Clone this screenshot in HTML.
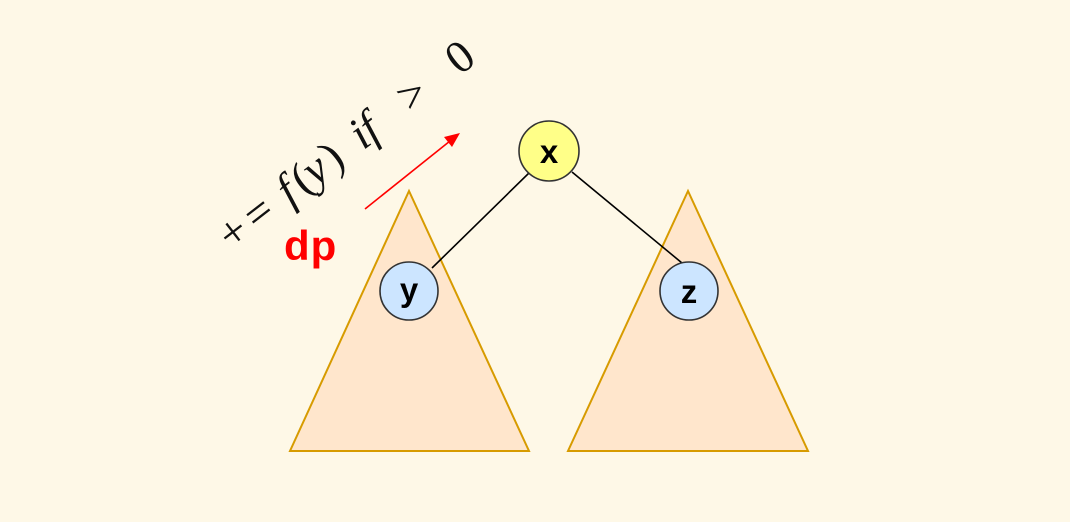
<!DOCTYPE html>
<html><head><style>body{margin:0;background:#fef8e7;}svg{display:block}</style></head><body>
<svg width="1070" height="522" xmlns="http://www.w3.org/2000/svg">
<rect width="1070" height="522" fill="#fef8e7"/>
<polygon points="409,191 290,451 529,451" fill="#ffe6cc" stroke="#d79b00" stroke-width="2"/>
<polygon points="688,191 568,451 808,451" fill="#ffe6cc" stroke="#d79b00" stroke-width="2"/>
<line x1="530" y1="172" x2="432" y2="268" stroke="#000" stroke-width="1.6"/>
<line x1="572" y1="172" x2="682" y2="263" stroke="#000" stroke-width="1.6"/>
<circle cx="549" cy="151" r="30" fill="#ffff88" stroke="#333" stroke-width="1.6"/>
<circle cx="409" cy="291" r="29" fill="#cce5ff" stroke="#333" stroke-width="1.6"/>
<circle cx="689" cy="291" r="29" fill="#cce5ff" stroke="#333" stroke-width="1.6"/>
<g font-family="Liberation Sans, sans-serif" font-weight="bold" font-size="33" text-anchor="middle" fill="#000">
<text x="549" y="163">x</text><text x="409" y="301">y</text><text x="689" y="303">z</text></g>
<text x="284" y="260" font-family="Liberation Sans, sans-serif" font-weight="bold" font-size="42" fill="#ff0000" letter-spacing="1">dp</text>
<line x1="365" y1="209" x2="450" y2="141" stroke="#ff0000" stroke-width="1.6"/>
<polygon points="460,133 444,137 452,147" fill="#ff0000"/>
<g transform="translate(232,252) rotate(-37.7)" font-family="Liberation Serif, serif" font-size="46" fill="#111">
<text x="0" y="0">+</text>
<text x="32" y="0">=</text>
<text x="74" y="0" font-style="italic">f</text>
<text x="92" y="0">(</text>
<text x="106" y="0" font-style="italic">y</text>
<text x="130" y="0">)</text>
<text x="166" y="0" font-style="italic">i</text>
<text x="178" y="0" font-style="italic">f</text>
<text x="226" y="0">&gt;</text>
<text x="288" y="0">0</text>
</g>
</svg>
</body></html>
